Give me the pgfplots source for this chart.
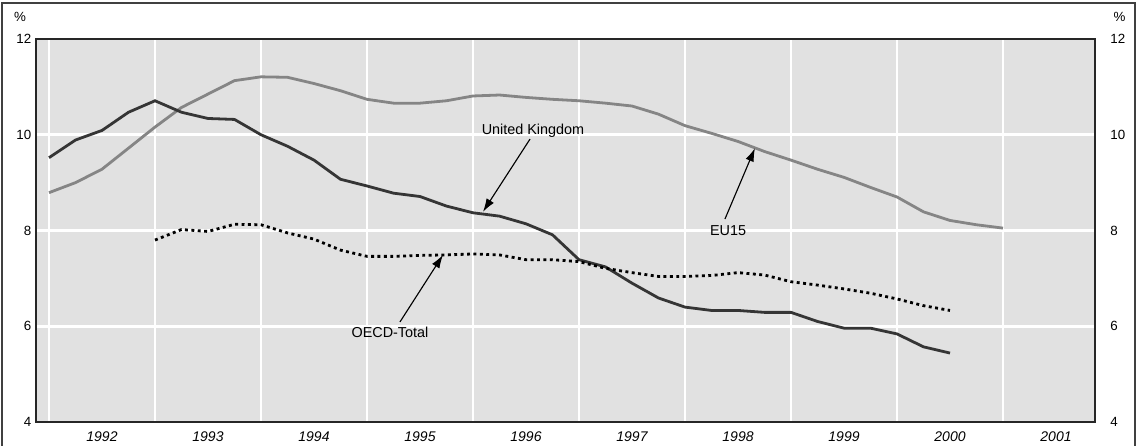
\documentclass[border=0pt]{standalone}
\usepackage{pgfplots}
\pgfplotsset{compat=1.18}
\usepackage{fontspec}
\setmainfont{Liberation Sans}
\usetikzlibrary{arrows.meta}
\definecolor{bg}{HTML}{E1E1E1}
\definecolor{ukc}{HTML}{353535}
\definecolor{euc}{HTML}{858585}
\begin{document}
\begin{tikzpicture}[x=1pt,y=1pt]
\useasboundingbox (0,0) rectangle (856.5,334.5);
\begin{axis}[
 at={(27pt,18pt)}, anchor=south west, scale only axis,
 width=794.25pt, height=287.25pt,
 xmin=1991.8774, xmax=2001.868, ymin=4, ymax=12,
 axis background/.style={fill=bg},
 xtick={1992.5,1993.5,1994.5,1995.5,1996.5,1997.5,1998.5,1999.5,2000.5,2001.5},
 xticklabels={1992,1993,1994,1995,1996,1997,1998,1999,2000,2001},
 minor xtick={1992,1993,1994,1995,1996,1997,1998,1999,2000,2001},
 xminorgrids, ymajorgrids,
 minor grid style={white, line width=2pt},
 major grid style={white, line width=2pt},
 ytick={4,6,8,10,12},
 tick style={draw=none},
 axis line style={line width=1.4pt, color=black!85},
 /pgf/number format/assume math mode=true,
 xticklabel style={font=\itshape\fontsize{10.5}{12}\selectfont, yshift=-4pt},
 yticklabel style={font=\fontsize{10}{12}\selectfont},
 ytick pos=left,
]
% EU15
\addplot[euc, line width=2.1pt] coordinates {
(1992.00,8.79) (1992.25,9.00) (1992.50,9.28) (1992.75,9.72)
(1993.00,10.16) (1993.25,10.57) (1993.50,10.85) (1993.75,11.13)
(1994.00,11.21) (1994.25,11.20) (1994.50,11.07) (1994.75,10.92)
(1995.00,10.74) (1995.25,10.66) (1995.50,10.66) (1995.75,10.71)
(1996.00,10.81) (1996.25,10.83) (1996.50,10.78) (1996.75,10.74)
(1997.00,10.71) (1997.25,10.66) (1997.50,10.60) (1997.75,10.43)
(1998.00,10.19) (1998.25,10.03) (1998.50,9.86) (1998.75,9.65)
(1999.00,9.47) (1999.25,9.28) (1999.50,9.11) (1999.75,8.90)
(2000.00,8.70) (2000.25,8.39) (2000.50,8.21) (2000.75,8.12)
(2001.00,8.05)};
% United Kingdom
\addplot[ukc, line width=2.1pt] coordinates {
(1992.00,9.52) (1992.25,9.89) (1992.50,10.09) (1992.75,10.47)
(1993.00,10.71) (1993.25,10.47) (1993.50,10.34) (1993.75,10.32)
(1994.00,10.00) (1994.25,9.76) (1994.50,9.47) (1994.75,9.07)
(1995.00,8.93) (1995.25,8.78) (1995.50,8.71) (1995.75,8.51)
(1996.00,8.37) (1996.25,8.30) (1996.50,8.14) (1996.75,7.91)
(1997.00,7.39) (1997.25,7.24) (1997.50,6.90) (1997.75,6.59)
(1998.00,6.40) (1998.25,6.33) (1998.50,6.33) (1998.75,6.29)
(1999.00,6.29) (1999.25,6.10) (1999.50,5.96) (1999.75,5.96)
(2000.00,5.84) (2000.25,5.57) (2000.50,5.44)};
% OECD-Total
\addplot[black, line width=2.1pt, dash pattern=on 2.2pt off 2.6pt] coordinates {
(1993.00,7.80) (1993.25,8.02) (1993.50,7.98) (1993.75,8.13)
(1994.00,8.12) (1994.25,7.95) (1994.50,7.82) (1994.75,7.59)
(1995.00,7.46) (1995.25,7.46) (1995.50,7.48) (1995.75,7.49)
(1996.00,7.51) (1996.25,7.49) (1996.50,7.39) (1996.75,7.39)
(1997.00,7.35) (1997.25,7.21) (1997.50,7.12) (1997.75,7.04)
(1998.00,7.04) (1998.25,7.06) (1998.50,7.12) (1998.75,7.07)
(1999.00,6.93) (1999.25,6.86) (1999.50,6.78) (1999.75,6.69)
(2000.00,6.57) (2000.25,6.43) (2000.50,6.33)};
% annotations
\node[font=\fontsize{10.8}{12}\selectfont] at (axis cs:1996.566,10.08) {United Kingdom};
\draw[line width=0.85pt, -{Latex[length=10pt,width=6.5pt]}] (axis cs:1996.538,9.91) -- (axis cs:1996.094,8.39);
\node[font=\fontsize{10.8}{12}\selectfont] at (axis cs:1995.217,5.88) {OECD-Total};
\draw[line width=0.85pt, -{Latex[length=10pt,width=6.5pt]}] (axis cs:1995.311,6.09) -- (axis cs:1995.717,7.49);
\node[font=\fontsize{10.8}{12}\selectfont] at (axis cs:1998.406,7.99) {EU15};
\draw[line width=0.85pt, -{Latex[length=10pt,width=6.5pt]}] (axis cs:1998.377,8.24) -- (axis cs:1998.660,9.72);
\end{axis}
\begin{axis}[
 at={(27pt,18pt)}, anchor=south west, scale only axis,
 width=794.25pt, height=287.25pt,
 xmin=1991.8774, xmax=2001.868, ymin=4, ymax=12,
 hide x axis, axis y line*=right,
 axis line style={draw=none},
 ytick={4,6,8,10,12},
 tick style={draw=none},
 /pgf/number format/assume math mode=true,
 yticklabel style={font=\fontsize{10}{12}\selectfont, xshift=8pt},
]
\end{axis}
\node[font=\fontsize{10}{12}\selectfont] at (15,321.75) {\%};
\node[font=\fontsize{10}{12}\selectfont] at (839.6,321.75) {\%};
\draw[line width=1.5pt, black!75] (1.3,-5) -- (1.3,332) -- (851.3,332) -- (851.3,-5);
\end{tikzpicture}
\end{document}
